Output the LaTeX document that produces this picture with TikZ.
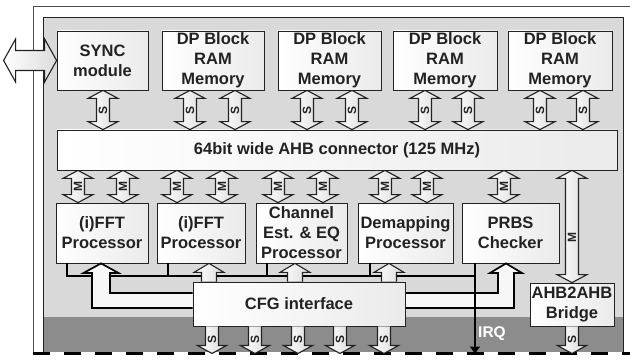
\documentclass[tikz,border=0pt]{standalone}
\usepackage{fontspec}
\setmainfont{Liberation Sans}
\usetikzlibrary{arrows.meta, calc}

\definecolor{panel}{HTML}{D9D9D9}
\definecolor{band}{HTML}{8C8C8C}
\definecolor{ink}{HTML}{222222}

\tikzset{
  box/.style={draw=ink, line width=0.8pt, left color=white, right color=black!8,
    inner sep=0pt, align=center, text=ink,
    font=\bfseries\fontsize{16.5}{20}\selectfont},
  blockarrow/.style={draw=ink, line width=1.1pt, left color=white, right color=black!14},
  pipe/.style={draw=black, line width=1.7pt, fill=black!3},
  ctrl/.style={draw=black, line width=1.7pt},
  tag/.style={text=ink, font=\bfseries\fontsize{12}{14}\selectfont,
    rotate=90, inner sep=0pt}
}

% vertical double block arrow: [label pos] x, upper anchor, lower anchor, label
\newcommand\dblarrow[5][0.5]{%
  \path (#2,0 |- #3) coordinate (atop) (#2,0 |- #4) coordinate (abot);
  \filldraw[blockarrow] (atop) -- ++(15,8) -- ++(-8.5,0) -- ($(abot)+(6.5,-8)$)
    -- ++(8.5,0) -- (abot) -- ++(-15,-8) -- ++(8.5,0) -- ($(atop)+(-6.5,8)$)
    -- ++(-8.5,0) -- cycle;
  \node[tag] at ($(atop)!#1!(abot)$) {#5};
}
% single block arrow up from the CFG box: x, lower anchor, upper anchor
\newcommand\cfgarrow[3]{%
  \path (#1,0 |- #2) coordinate (abot) (#1,0 |- #3) coordinate (atop);
  \filldraw[blockarrow] ($(abot)+(-7.5,0)$) -- ($(atop)+(-7.5,9)$) -- ++(-7.5,0)
    -- (atop) -- ++(15,9) -- ++(-7.5,0) -- ($(abot)+(7.5,0)$);
}
% single block arrow down to the bus edge: x, upper anchor
\newcommand\outarrow[2]{%
  \path (#1,0 |- #2) coordinate (atop) (#1,0 |- edge) coordinate (abot);
  \filldraw[blockarrow] ($(atop)+(-6.5,0)$) -- ($(abot)+(-6.5,-8)$) -- ++(-8,0)
    -- (abot) -- ++(14.5,-8) -- ++(-8,0) -- ($(atop)+(6.5,0)$);
  \node[tag] at ($(atop)!0.5!(abot)$) {S};
}

\begin{document}
\begin{tikzpicture}[x=1pt, y=-1pt]
  \fill[white] (0,0) rectangle (630,361);
  \useasboundingbox (0,0) rectangle (630,361);
  \coordinate (edge) at (0,353.5);

  % Chip outline and panel
  \draw[black!70, line width=0.8pt] (630,6) -- (33,6) -- (33,353);
  \fill[panel] (43,17) rectangle (623,351.5);
  \fill[band] (43,317) rectangle (623,351.5);
  \draw[ink, line width=0.7pt] (43,352) -- (43,17) -- (623,17) -- (623,352);
  \draw[black, line width=3pt, dash pattern=on 17pt off 14pt] (33,353.5) -- (630,353.5);

  % Memories and sync
  \node[box, minimum width=91, minimum height=59] (sync) at (102.5,60.5) {SYNC\\module};
  \node[box, minimum width=102, minimum height=59] (dp1) at (213,60.5) {DP Block\\RAM\\Memory};
  \node[box, minimum width=103, minimum height=59] (dp2) at (329.5,60.5) {DP Block\\RAM\\Memory};
  \node[box, minimum width=104, minimum height=59] (dp3) at (445,60.5) {DP Block\\RAM\\Memory};
  \node[box, minimum width=104, minimum height=59] (dp4) at (560,60.5) {DP Block\\RAM\\Memory};

  % Bus
  \node[box, minimum width=560, minimum height=40] (bus) at (337,150)
    {64bit wide AHB connector (125 MHz)};

  % Processors
  \node[box, minimum width=92, minimum height=60] (fft1) at (102,233) {(i)FFT\\Processor};
  \node[box, minimum width=88, minimum height=60] (fft2) at (201,233) {(i)FFT\\Processor};
  \node[box, minimum width=91, minimum height=60] (chan) at (301.5,233) {Channel\\Est. \& EQ\\Processor};
  \node[box, minimum width=95, minimum height=60] (demap) at (405.5,233) {Demapping\\Processor};
  \node[box, minimum width=97, minimum height=60] (prbs) at (510.5,233) {PRBS\\Checker};

  % External port
  \filldraw[blockarrow] (sync.west) -- ++(-12,-21.5) -- ++(0,11.5) -- ++(-29,0)
    -- ++(0,-11.5) -- ++(-12,21.5) -- ++(12,21.5) -- ++(0,-11.5) -- ++(29,0)
    -- ++(0,11.5) -- cycle;

  % Slave ports
  \dblarrow{103}{sync.south}{bus.north}{S}
  \foreach \x/\b in {190/dp1,235/dp1,307/dp2,352/dp2,425/dp3,468/dp3,540/dp4,583/dp4}
    {\dblarrow{\x}{\b.south}{bus.north}{S}}

  % Master ports
  \foreach \x/\b in {78/fft1,123/fft1,177/fft2,222/fft2,278/chan,323/chan,385/demap,427/demap,504/prbs}
    {\dblarrow{\x}{bus.south}{\b.north}{M}}

  % Control lines
  \draw[ctrl] (67,0 |- fft1.south) -- (67,276) -- (475,276);
  \draw[ctrl] (168,0 |- fft2.south) -- (168,276);
  \draw[ctrl] (267,0 |- chan.south) -- (267,276);
  \draw[ctrl] (370,0 |- demap.south) -- (370,276);

  % CFG pipes
  \node[box, minimum width=212, minimum height=44] (cfg) at (299,304) {CFG interface};
  \filldraw[pipe] (cfg.west |- 0,293) -- (110,293) -- (110,273) -- (118.5,273)
    -- (101,0 |- fft1.south) -- (83.5,273) -- (92,273) -- (92,308) -- (cfg.west |- 0,308);
  \filldraw[pipe] (cfg.east |- 0,293) -- (498,293) -- (498,273) -- (490,273)
    -- (506,0 |- prbs.south) -- (522,273) -- (514,273) -- (514,308) -- (cfg.east |- 0,308);
  \foreach \x/\b in {209/fft2,295/chan,389/demap}
    {\cfgarrow{\x}{cfg.north}{\b.south}}
  \node[box, minimum width=212, minimum height=44] at (cfg) {CFG interface};
  \foreach \x in {212,255,298,340,384} {\outarrow{\x}{cfg.south}}

  % IRQ
  \draw[ctrl, -{Triangle[width=10pt,length=7pt]}] (475,0 |- prbs.south) -- (475,0 |- edge);
  \node[text=white, font=\bfseries\fontsize{15.5}{18}\selectfont, inner sep=0pt] (irq)
    at (492,334) {IRQ};

  % Bridge
  \node[box, minimum width=84, minimum height=43] (bridge) at (572,304.5) {AHB2AHB\\Bridge};
  \dblarrow[0.6]{572}{bus.south}{bridge.north}{M}
  \outarrow{572}{bridge.south}
\end{tikzpicture}
\end{document}
